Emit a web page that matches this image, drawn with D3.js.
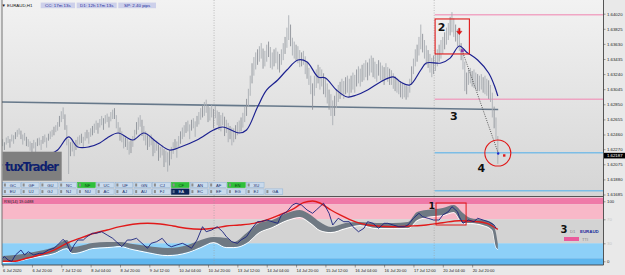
<!DOCTYPE html>
<html>
<head>
<meta charset="utf-8">
<title>EURAUD H1</title>
<script src="https://cdn.jsdelivr.net/npm/d3@7"></script>
<style>
  body { margin: 0; background: #e9e9e9; }
  svg { display: block; font-family: "Liberation Sans", Arial, sans-serif; }
</style>
</head>
<body>
<svg id="chart" width="625" height="275"></svg>
<script>
// ---- data (H1 bars, index 0 = 6 Jul 04:00) ----
var barHigh = [
  1.6240,1.6236,1.6242,1.6244,1.6240,1.6246,1.6245,1.6249,1.6252,1.6254,
  1.6251,1.6246,1.6248,1.6243,1.6240,1.6237,1.6235,1.6239,1.6236,1.6241,
  1.6242,1.6239,1.6244,1.6246,1.6242,1.6247,1.6250,1.6252,1.6256,1.6258,
  1.6262,1.6270,1.6276,1.6281,1.6272,1.6258,1.6240,1.6236,1.6238,1.6235,
  1.6239,1.6243,1.6245,1.6247,1.6243,1.6249,1.6252,1.6249,1.6254,1.6257,
  1.6260,1.6264,1.6261,1.6266,1.6270,1.6267,1.6271,1.6273,1.6269,1.6275,
  1.6278,1.6280,1.6271,1.6262,1.6255,1.6250,1.6245,1.6242,1.6240,1.6237,
  1.6240,1.6244,1.6252,1.6262,1.6268,1.6271,1.6265,1.6257,1.6250,1.6245,
  1.6244,1.6246,1.6239,1.6236,1.6238,1.6233,1.6230,1.6232,1.6227,1.6225,
  1.6223,1.6226,1.6230,1.6236,1.6240,1.6237,1.6244,1.6250,1.6255,1.6258,
  1.6262,1.6264,1.6259,1.6265,1.6267,1.6263,1.6270,1.6275,1.6280,1.6284,
  1.6288,1.6291,1.6285,1.6281,1.6284,1.6279,1.6283,1.6277,1.6275,1.6271,
  1.6274,1.6269,1.6265,1.6261,1.6257,1.6255,1.6254,1.6258,1.6262,1.6264,
  1.6268,1.6274,1.6282,1.6292,1.6305,1.6322,1.6338,1.6346,1.6352,1.6356,
  1.6360,1.6364,1.6357,1.6354,1.6362,1.6366,1.6359,1.6352,1.6356,1.6358,
  1.6353,1.6350,1.6356,1.6364,1.6372,1.6384,1.6400,1.6388,1.6371,1.6366,
  1.6362,1.6360,1.6355,1.6352,1.6354,1.6347,1.6340,1.6332,1.6322,1.6312,
  1.6322,1.6330,1.6336,1.6333,1.6330,1.6325,1.6320,1.6312,1.6304,1.6298,
  1.6290,1.6296,1.6304,1.6310,1.6314,1.6318,1.6315,1.6320,1.6322,1.6318,
  1.6322,1.6326,1.6323,1.6330,1.6334,1.6331,1.6336,1.6338,1.6342,1.6339,
  1.6344,1.6348,1.6345,1.6340,1.6337,1.6342,1.6339,1.6335,1.6333,1.6338,
  1.6333,1.6331,1.6329,1.6325,1.6321,1.6319,1.6317,1.6315,1.6313,1.6311,
  1.6309,1.6308,1.6318,1.6334,1.6344,1.6356,1.6362,1.6372,1.6388,1.6376,
  1.6368,1.6361,1.6355,1.6350,1.6345,1.6348,1.6350,1.6356,1.6362,1.6368,
  1.6372,1.6378,1.6384,1.6390,1.6398,1.6404,1.6396,1.6388,1.6382,1.6376,
  1.6364,1.6354,1.6340,1.6326,1.6330,1.6332,1.6328,1.6330,1.6326,1.6324,
  1.6322,1.6324,1.6320,1.6322,1.6318,1.6316,1.6310,1.6300,1.6282,1.6268,1.6244
];
var barLow = [
  1.6231,1.6226,1.6233,1.6235,1.6229,1.6237,1.6234,1.6240,1.6243,1.6246,
  1.6240,1.6233,1.6238,1.6231,1.6230,1.6225,1.6222,1.6228,1.6220,1.6231,
  1.6232,1.6226,1.6234,1.6236,1.6229,1.6238,1.6240,1.6243,1.6245,1.6249,
  1.6251,1.6256,1.6262,1.6266,1.6252,1.6232,1.6195,1.6218,1.6224,1.6218,
  1.6226,1.6231,1.6233,1.6235,1.6229,1.6238,1.6241,1.6234,1.6243,1.6245,
  1.6248,1.6252,1.6247,1.6255,1.6258,1.6252,1.6260,1.6262,1.6255,1.6263,
  1.6266,1.6266,1.6254,1.6247,1.6238,1.6236,1.6228,1.6230,1.6226,1.6220,
  1.6222,1.6230,1.6238,1.6246,1.6252,1.6256,1.6244,1.6238,1.6232,1.6226,
  1.6230,1.6232,1.6218,1.6222,1.6225,1.6212,1.6216,1.6219,1.6204,1.6210,
  1.6198,1.6206,1.6214,1.6221,1.6226,1.6216,1.6230,1.6234,1.6240,1.6243,
  1.6248,1.6250,1.6240,1.6251,1.6254,1.6243,1.6256,1.6259,1.6265,1.6268,
  1.6270,1.6274,1.6262,1.6264,1.6268,1.6254,1.6267,1.6258,1.6252,1.6250,
  1.6258,1.6244,1.6248,1.6236,1.6240,1.6232,1.6236,1.6240,1.6245,1.6248,
  1.6250,1.6255,1.6262,1.6270,1.6282,1.6296,1.6312,1.6322,1.6330,1.6336,
  1.6340,1.6344,1.6331,1.6334,1.6340,1.6346,1.6332,1.6330,1.6334,1.6338,
  1.6330,1.6326,1.6336,1.6342,1.6350,1.6358,1.6368,1.6360,1.6348,1.6344,
  1.6342,1.6338,1.6333,1.6334,1.6336,1.6324,1.6318,1.6310,1.6298,1.6278,
  1.6296,1.6306,1.6312,1.6304,1.6308,1.6298,1.6294,1.6286,1.6278,1.6270,
  1.6258,1.6270,1.6280,1.6288,1.6292,1.6296,1.6292,1.6298,1.6300,1.6294,
  1.6300,1.6304,1.6300,1.6308,1.6312,1.6308,1.6314,1.6316,1.6320,1.6316,
  1.6322,1.6326,1.6320,1.6318,1.6314,1.6322,1.6316,1.6314,1.6310,1.6318,
  1.6314,1.6310,1.6310,1.6305,1.6302,1.6300,1.6298,1.6294,1.6292,1.6294,
  1.6291,1.6294,1.6300,1.6310,1.6324,1.6334,1.6340,1.6348,1.6356,1.6352,
  1.6344,1.6336,1.6332,1.6326,1.6320,1.6324,1.6328,1.6334,1.6340,1.6344,
  1.6350,1.6356,1.6362,1.6368,1.6374,1.6378,1.6372,1.6366,1.6360,1.6354,
  1.6342,1.6330,1.6302,1.6298,1.6310,1.6312,1.6308,1.6306,1.6304,1.6302,
  1.6302,1.6304,1.6300,1.6298,1.6296,1.6292,1.6288,1.6268,1.6254,1.6240,1.6208
];
var currentPrice = 1.62187;

// moving average on price (bar index, price)
var maBar = [0,10,20,26,30,36,41,47,53,57,63,71,77,84,91,97,106,115,120,129,133,139,144,150,
  155,161,166,172,176,182,188,193,199,206,213,217,222,228,231,239,244,249,253,259,265,268,270];
var maPrice = [1.62066,1.62092,1.62157,1.62208,1.62260,1.62428,1.62299,1.62299,1.62350,1.62415,
  1.62479,1.62389,1.62479,1.62363,1.62260,1.62299,1.62389,1.62518,1.62557,1.62479,1.62518,
  1.62815,1.63035,1.63164,1.63293,1.63422,1.63396,1.63203,1.63190,1.63035,1.62944,1.62970,
  1.63035,1.63138,1.63203,1.63138,1.63099,1.63293,1.63383,1.63383,1.63446,1.63603,1.63523,
  1.63422,1.63254,1.63099,1.62957];

// lower window: fast line (navy)
var fastBar = [0,1,3,5,7,9,10,12,14,17,20,22,25,28,30,33,35,37,39,41,44,46,49,51,54,57,60,62,65,68,
  70,73,76,79,81,84,87,90,92,95,98,100,103,106,109,111,114,117,120,122,125,128,130,133,136,139,
  141,144,147,150,152,155,158,160,163,166,169,171,175,178,180,183,186,189,191,194,197,199,202,
  205,208,210,213,216,219,221,224,227,229,232,235,238,240,243,245,248,249,251,254,257,259,262,
  265,268,269];
var fastVal = [5,7.7,2.2,0,10.5,16,18.8,10.5,16,10.5,13.3,13.3,18.8,21.7,27.2,36.7,30,16,27.2,35.5,
  35.5,41,46.7,46.7,49.3,43.8,38.3,32.7,24.3,35.5,35.5,38.3,30,21.7,30,32.7,38.3,27.2,24.3,27.2,
  30,27.2,21.7,35.5,57.7,49.3,52.2,57.7,49.3,41,32.7,30,35.5,41,55,66,66,68.8,66,63.3,77.2,82.7,
  93.8,96.7,93.8,85.5,80,85.5,96.7,80,60.5,71.7,66,66,57.7,49.3,55,66,63.3,55,63.3,63.3,60.5,
  57.7,57.7,60.5,71.7,80,74.3,71.7,68.8,68.8,77.2,82.7,91,82.7,74.3,63.3,68.8,66,71.7,68.8,66,
  60.5,55];

// lower window: slow line (red)
var slowBar = [0,6,13,20,28,35,42,50,57,64,71,79,86,93,100,108,115,122,129,137,144,151,159,164,
  169,173,179,184,189,195,204,213,222,231,240,249,259,264,270];
var slowVal = [0,0,5,10.5,18.8,30,38.3,46.7,52.2,57.7,61.7,63.3,62.2,58.8,55,53.3,55,58.8,60.5,
  63.3,68.8,77.2,88.3,97.7,100.5,97.2,85.5,77.2,70,63.3,58.8,57.7,58.8,60.5,64.3,67.7,66,63.3,53.3];

// lower window: TTI ribbon
var ribbonBar = [0,7,17,28,35,38,42,49,57,64,71,79,90,101,108,115,122,126,133,140,147,155,162,
  168,173,179,187,195,204,213,221,226,231,240,246,251,255,262,267,269,270];
var ribbonHi = [8.8,10.5,15.5,23.8,35.5,23.8,25.5,30.5,32.2,32.2,28.8,25.5,22.2,27.2,35.5,40.5,
  38.8,32.2,47.2,63.8,68.8,80.5,85.5,77.2,65.5,57.2,63.8,65.5,63.8,63.8,65.5,82.2,85.5,88.8,
  93.8,80.5,72.2,68.8,63.8,47.2,28.8];
var ribbonLo = [-1.2,0.5,7.2,13.8,22.2,13.8,15.5,22.2,23.8,25.5,20.5,15.5,10.5,15.5,23.8,32.2,
  23.8,23.8,30.5,48.8,57.2,68.8,73.8,63.8,52.2,48.8,55.5,60.5,55.5,55.5,55.5,68.8,73.8,77.2,
  82.2,63.8,63.8,60.5,52.2,23.8,20.5];

var priceTicks = [1.64020,1.63825,1.63630,1.63435,1.63240,1.63045,1.62850,1.62655,1.62460,
  1.62270,1.62075,1.61880,1.61685];
var timeBars = [0,16,32,48,64,80,96,112,128,144,160,176,192,208,224,240,256];
var timeLabels = ["6 Jul 2020","6 Jul 20:00","7 Jul 12:00","8 Jul 04:00","8 Jul 20:00",
  "9 Jul 12:00","10 Jul 04:00","10 Jul 20:00","13 Jul 12:00","14 Jul 04:00","14 Jul 20:00",
  "15 Jul 12:00","16 Jul 04:00","16 Jul 20:00","17 Jul 12:00","20 Jul 04:00","20 Jul 20:00"];
var weekBreaks = [115.3, 235.3];
var levelTicks = [100, 70, 30, 0];

var buttonsTop = ["GC","GF","GU","NC","NF","UC","UF","GN","CJ","CF","AN","AF","EN","XU"];
var buttonsBottom = ["EU","UJ","GJ","NJ","NU","AC","AJ","AU","FJ","EA","EC","EF","EG","EJ","GA"];
var greenButtons = ["NF","CF","EN"];
var activeButton = "EA";
var infoBoxes = ["CC: 17m 13s","D1: 12h 17m 13s","SP: 2.40 pips"];

// ---- layout ----
var svg = d3.select("#chart");
var plotL = 2, plotR = 603.5, mainB = 196, subT = 197.5, subB = 265;

var x = d3.scaleLinear().domain([0, 328]).range([2.6, 604.2]);
var y = d3.scaleLinear().domain([1.64020, 1.61685]).range([13.7, 194.5]);
var yr = d3.scaleLinear().domain([0, 100]).range([261.3, 201.3]);

var defs = svg.append("defs");
var grad = defs.append("linearGradient").attr("id", "bg").attr("x1", 0).attr("x2", 0).attr("y1", 0).attr("y2", 1);
grad.append("stop").attr("offset", "0%").attr("stop-color", "#f2f2f2");
grad.append("stop").attr("offset", "100%").attr("stop-color", "#d5d5d5");
defs.append("clipPath").attr("id", "clipMain").append("rect")
  .attr("x", plotL).attr("y", 0).attr("width", plotR - plotL).attr("height", mainB);
defs.append("clipPath").attr("id", "clipSub").append("rect")
  .attr("x", plotL).attr("y", subT).attr("width", plotR - plotL).attr("height", subB - subT);

svg.append("rect").attr("width", 625).attr("height", 275).attr("fill", "#e9e9e9");
svg.append("rect").attr("x", plotL).attr("y", 0).attr("width", plotR - plotL).attr("height", mainB)
  .attr("fill", "url(#bg)");

// ---- main window ----
var main = svg.append("g").attr("clip-path", "url(#clipMain)");

main.selectAll(".sep").data(weekBreaks).join("line")
  .attr("x1", d => x(d)).attr("x2", d => x(d)).attr("y1", 0).attr("y2", mainB)
  .attr("stroke", "#9a9a9a").attr("stroke-width", 0.6).attr("stroke-dasharray", "1,1.5");

// trend line "3"
main.append("line")
  .attr("x1", x(-0.3)).attr("y1", y(1.62879)).attr("x2", x(270.2)).attr("y2", y(1.62783))
  .attr("stroke", "#66788a").attr("stroke-width", 1.6);

// horizontal levels from 20 Jul
var levels = [[1.64007, "#f0a6c4"], [1.62915, "#eea4c2"], [1.62225, "#7cbde6"], [1.61734, "#7cbde6"]];
main.selectAll(".lvl").data(levels).join("line")
  .attr("x1", x(235.6)).attr("x2", plotR).attr("y1", d => y(d[0])).attr("y2", d => y(d[0]))
  .attr("stroke", d => d[1]).attr("stroke-width", 1.4);

// bars
main.selectAll(".bar").data(barHigh).join("line")
  .attr("x1", (d, i) => x(i)).attr("x2", (d, i) => x(i))
  .attr("y1", d => y(d)).attr("y2", (d, i) => y(barLow[i]))
  .attr("stroke", (d, i) => i % 3 === 1 ? "#8d9298" : "#a9aeb3").attr("stroke-width", 0.9);

// moving average
main.append("path")
  .datum(maBar.map((b, i) => [b, maPrice[i]]))
  .attr("d", d3.line().x(d => x(d[0])).y(d => y(d[1])).curve(d3.curveCatmullRom.alpha(0.5)))
  .attr("fill", "none").attr("stroke", "#1c2190").attr("stroke-width", 1.2);

// projection dotted line
main.append("line")
  .attr("x1", x(250.6)).attr("y1", y(1.63542)).attr("x2", x(270.2)).attr("y2", y(1.62221))
  .attr("stroke", "#333").attr("stroke-width", 0.8).attr("stroke-dasharray", "1,1.3");

// box 2
main.append("rect")
  .attr("x", x(235.8)).attr("y", y(1.63952))
  .attr("width", x(254.5) - x(235.8)).attr("height", y(1.63500) - y(1.63952))
  .attr("fill", "none").attr("stroke", "#e01818").attr("stroke-width", 1.1);
main.append("rect").attr("x", x(250.6) - 1.5).attr("y", y(1.63542) - 1.5)
  .attr("width", 3).attr("height", 3).attr("fill", "#8a3aa8");

// red arrow
var ax = x(249), ay = y(1.63788);
main.append("path")
  .attr("d", `M${ax - 0.8},${ay - 3.5}h1.6v3h2l-2.8,3.6l-2.8,-3.6h2z`)
  .attr("fill", "#e41414").attr("stroke", "#b00000").attr("stroke-width", 0.3);

// circle 4
main.append("circle").attr("cx", x(270)).attr("cy", y(1.6222)).attr("r", 13)
  .attr("fill", "none").attr("stroke", "#e01818").attr("stroke-width", 1.1);
main.append("circle").attr("cx", x(270.2)).attr("cy", y(1.62215)).attr("r", 1.2).attr("fill", "#1b2ad0");
main.append("rect").attr("x", x(273.5) - 1.2).attr("y", y(1.62189) - 1.2)
  .attr("width", 2.4).attr("height", 2.4).attr("fill", "#e01818");

var numStyle = s => s.attr("font-family", "'DejaVu Sans', Arial, sans-serif").attr("font-weight", "bold")
  .attr("fill", "#111").attr("text-anchor", "middle");
main.append("text").attr("x", 441.7).attr("y", 30.8).attr("font-size", 11).text("2").call(numStyle);
main.append("text").attr("x", x(246)).attr("y", y(1.62699) + 4).attr("font-size", 11).text("3").call(numStyle);
main.append("text").attr("x", x(261)).attr("y", y(1.62031) + 4).attr("font-size", 11).text("4").call(numStyle);

// header
svg.append("text").attr("x", 1.5).attr("y", 6.6).attr("font-size", 4.4).attr("fill", "#111")
  .text("\u25BC EURAUD,H1");
var boxX = [40.7, 76.7, 118.3], boxW = [34.3, 40, 37.7];
infoBoxes.forEach(function (t, i) {
  svg.append("rect").attr("x", boxX[i]).attr("y", 2.6).attr("width", boxW[i]).attr("height", 5.6)
    .attr("fill", "#cdd0ea");
  svg.append("text").attr("x", boxX[i] + boxW[i] / 2).attr("y", 7.1).attr("text-anchor", "middle")
    .attr("font-size", 4.4).attr("fill", "#1f2c9c").text(t);
});

// tuxTrader panel
svg.append("rect").attr("x", 2.7).attr("y", 151.7).attr("width", 59).attr("height", 29).attr("fill", "#7f7f7f");
svg.append("text").attr("x", 5).attr("y", 171).attr("font-size", 11.5).attr("font-weight", "bold")
  .attr("font-family", "'DejaVu Sans', Arial, sans-serif").attr("fill", "#0e1f6e")
  .attr("textLength", 54).text("tuxTrader");

// symbol buttons
function drawButtons(list, top) {
  list.forEach(function (t, i) {
    var bx = 2.7 + i * 18.75;
    var green = greenButtons.indexOf(t) >= 0, active = t === activeButton;
    svg.append("rect").attr("x", bx).attr("y", top).attr("width", 17.6).attr("height", 5.4)
      .attr("fill", active ? "#0b2458" : green ? "#2fbf3a" : "#c9daec")
      .attr("stroke", active ? "#0b2458" : green ? "#2fbf3a" : "#8fb2d6").attr("stroke-width", 0.5);
    svg.append("rect").attr("x", bx + 1.2).attr("y", top + 1.2).attr("width", 2).attr("height", 3)
      .attr("fill", active ? "#5d6f90" : "#8c8c8c");
    svg.append("text").attr("x", bx + 7).attr("y", top + 4.3).attr("font-size", 4.2)
      .attr("fill", active ? "#e8f0ff" : green ? "#0d4a12" : "#1c2f6a").text(t);
  });
}
drawButtons(buttonsTop, 182.3);
drawButtons(buttonsBottom, 188.9);

// ---- lower window ----
var bands = [[106.5, 95, "#ef7aa8"], [95, 70, "#f8b8c8"], [70, 30, "#d3d3d3"], [30, 5, "#8dd0f8"], [5, -6.5, "#5eb6ee"]];
var sub = svg.append("g").attr("clip-path", "url(#clipSub)");
sub.selectAll(".band").data(bands).join("rect")
  .attr("x", plotL).attr("width", plotR - plotL)
  .attr("y", d => yr(d[0])).attr("height", d => yr(d[1]) - yr(d[0]))
  .attr("fill", d => d[2]);
sub.selectAll(".sep").data(weekBreaks).join("line")
  .attr("x1", d => x(d)).attr("x2", d => x(d)).attr("y1", subT).attr("y2", subB)
  .attr("stroke", "#9a9a9a").attr("stroke-width", 0.6).attr("stroke-dasharray", "1,1.5");

var rib = ribbonBar.map((b, i) => [b, ribbonHi[i], ribbonLo[i]]);
sub.append("path").datum(rib)
  .attr("d", d3.line().x(d => x(d[0])).y(d => yr(d[2]) + 0.6).curve(d3.curveMonotoneX))
  .attr("fill", "none").attr("stroke", "#ffffff").attr("stroke-width", 1);
sub.append("path").datum(rib)
  .attr("d", d3.area().x(d => x(d[0])).y0(d => yr(d[2])).y1(d => yr(d[1])).curve(d3.curveMonotoneX))
  .attr("fill", "#6f7983");

sub.append("path").datum(slowBar.map((b, i) => [b, slowVal[i]]))
  .attr("d", d3.line().x(d => x(d[0])).y(d => yr(d[1])).curve(d3.curveMonotoneX))
  .attr("fill", "none").attr("stroke", "#e11a1a").attr("stroke-width", 1.4);
sub.append("path").datum(fastBar.map((b, i) => [b, fastVal[i]]))
  .attr("d", d3.line().x(d => x(d[0])).y(d => yr(d[1])))
  .attr("fill", "none").attr("stroke", "#1a237e").attr("stroke-width", 0.9);

// box 1
sub.append("rect").attr("x", x(236.3)).attr("y", yr(97.2))
  .attr("width", x(252.7) - x(236.3)).attr("height", yr(60.5) - yr(97.2))
  .attr("fill", "none").attr("stroke", "#e01818").attr("stroke-width", 1);
svg.append("text").attr("x", 431.7).attr("y", 208.6).attr("font-size", 9.5).text("1").call(numStyle);

svg.append("text").attr("x", 4).attr("y", 202.8).attr("font-size", 4).attr("fill", "#222")
  .text("RSI(14) 19.0488");

// legend at right of lower window
svg.append("text").attr("x", 564).attr("y", 233.4).attr("font-size", 10).text("3").call(numStyle);
svg.append("text").attr("x", 570).attr("y", 233).attr("font-size", 4.2).attr("fill", "#888").text("D1");
svg.append("text").attr("x", 580).attr("y", 233).attr("font-size", 4.4).attr("font-weight", "bold")
  .attr("fill", "#1b2a9c").text("EURAUD");
svg.append("rect").attr("x", 564).attr("y", 237).attr("width", 15).attr("height", 4).attr("fill", "#ea5b9b");
svg.append("text").attr("x", 582).attr("y", 240.8).attr("font-size", 4.2).attr("fill", "#888").text("TTI");

// frames
svg.append("line").attr("x1", plotL).attr("x2", plotL).attr("y1", 0).attr("y2", subB).attr("stroke", "#555").attr("stroke-width", 0.8);
svg.append("line").attr("x1", plotR).attr("x2", plotR).attr("y1", 0).attr("y2", subB).attr("stroke", "#444").attr("stroke-width", 0.9);
svg.append("line").attr("x1", plotL).attr("x2", plotR).attr("y1", mainB + 0.5).attr("y2", mainB + 0.5).attr("stroke", "#444").attr("stroke-width", 0.9);
svg.append("line").attr("x1", plotL).attr("x2", plotR).attr("y1", subB).attr("y2", subB).attr("stroke", "#444").attr("stroke-width", 0.9);

// ---- axes ----
var pAxis = svg.append("g").attr("transform", `translate(${plotR},0)`)
  .call(d3.axisRight(y).tickValues(priceTicks).tickFormat(d3.format(".5f")).tickSize(2).tickPadding(1.5));
pAxis.select(".domain").remove();
pAxis.selectAll("text").attr("font-size", 4.3).attr("fill", "#222").attr("font-family", "'Liberation Sans', Arial");
pAxis.selectAll("line").attr("stroke", "#444").attr("stroke-width", 0.5);

var cp = svg.append("g").attr("transform", `translate(${plotR},${y(currentPrice)})`);
cp.append("rect").attr("x", 0.5).attr("y", -2.8).attr("width", 21).attr("height", 5.6).attr("fill", "#000");
cp.append("text").attr("x", 3.5).attr("y", 1.6).attr("font-size", 4.3).attr("fill", "#fff").text(d3.format(".5f")(currentPrice));

var rAxis = svg.append("g").attr("transform", `translate(${plotR},0)`)
  .call(d3.axisRight(yr).tickValues(levelTicks).tickSize(2).tickPadding(1.5));
rAxis.select(".domain").remove();
rAxis.selectAll("text").attr("font-size", 4.3).attr("font-family", "'Liberation Sans', Arial")
  .attr("fill", d => (d === 100 || d === 0) ? "#222" : "#c4c4c4");
rAxis.selectAll("line").attr("stroke", "#444").attr("stroke-width", 0.5);

var tAxis = svg.append("g").attr("transform", `translate(0,${subB})`)
  .call(d3.axisBottom(x).tickValues(timeBars).tickFormat((d, i) => timeLabels[i]).tickSize(2.5).tickPadding(1.2));
tAxis.select(".domain").remove();
tAxis.selectAll("text").attr("font-size", 4).attr("text-anchor", "start").attr("dx", 0)
  .attr("font-family", "'Liberation Sans', Arial").attr("fill", "#222");
tAxis.selectAll("line").attr("stroke", "#444").attr("stroke-width", 0.5);
</script>
</body>
</html>
